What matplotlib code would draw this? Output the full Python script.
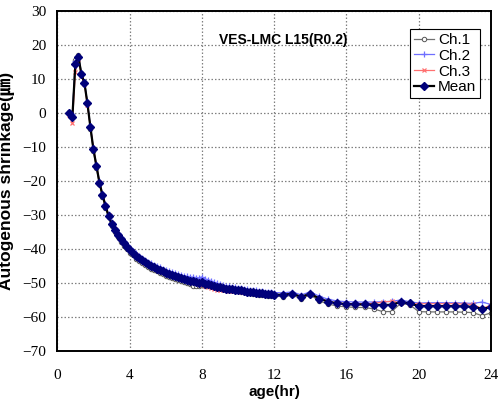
import numpy as np
import matplotlib
matplotlib.use('Agg')
import matplotlib.pyplot as plt

# logger schedule: every 10 min up to 12 h, then every 30 min up to 24 h
t_min = list(range(40, 730, 10)) + list(range(750, 1450, 30))

ch1 = [0.3, -0.6, 15.6, 17.2, 11.8, 9.2, 3.0, -4.6, -11.2, -16.1,
       -21.0, -24.6, -27.8, -30.7, -33.1, -34.9, -36.4, -37.8, -39.0, -40.1,
       -41.1, -41.9, -42.8, -43.5, -44.1, -44.6, -45.3, -45.8, -46.2, -46.6,
       -47.0, -47.4, -47.8, -48.1, -48.4, -48.7, -49.0, -49.4, -49.7, -50.0,
       -50.4, -50.8, -50.9, -50.9, -50.7, -50.8, -50.9, -51.0, -51.2, -51.5,
       -51.6, -51.8, -52.0, -52.1, -52.2, -52.3, -52.4, -52.5, -52.7, -52.9,
       -53.0, -53.2, -53.3, -53.4, -53.5, -53.6, -53.7, -53.8, -53.9,
       -54.0, -53.6, -54.6, -53.5, -55.3, -56.2, -56.8, -57.0, -57.2, -57.2,
       -57.6, -58.4, -58.4, -56.0, -56.4, -58.4, -58.5, -58.5, -58.5, -58.5,
       -58.6, -58.7, -59.6, -58.8]
ch2 = [0.2, -0.4, 15.4, 16.8, 11.6, 9.0, 3.1, -3.9, -10.4, -15.2,
       -20.1, -23.7, -26.9, -29.8, -32.0, -33.8, -35.2, -36.5, -37.7, -38.7,
       -39.7, -40.5, -41.3, -42.0, -42.5, -43.1, -43.7, -44.2, -44.6, -45.0,
       -45.3, -45.8, -46.2, -46.4, -46.8, -47.0, -47.4, -47.6, -47.9, -48.0,
       -48.2, -48.3, -48.4, -48.5, -48.2, -48.8, -49.0, -49.3, -49.7, -50.1,
       -50.3, -50.6, -50.9, -51.0, -51.2, -51.3, -51.5, -51.6, -51.7, -51.9,
       -52.0, -52.1, -52.2, -52.3, -52.4, -52.5, -52.6, -52.7, -52.8,
       -52.9, -52.6, -53.5, -52.6, -53.9, -54.8, -55.3, -55.5, -55.6, -55.6,
       -55.6, -55.5, -55.4, -55.0, -55.5, -55.9, -55.8, -55.8, -55.8, -55.8,
       -55.9, -56.0, -55.6, -56.3]
ch3 = [-0.5, -2.9, 12.2, 15.8, 10.8, 8.5, 2.3, -4.1, -10.5, -15.5,
       -20.4, -24.0, -27.2, -30.1, -32.4, -34.2, -35.8, -37.0, -38.2, -39.4,
       -40.4, -41.2, -41.9, -42.6, -43.3, -44.0, -44.5, -45.0, -45.4, -45.8,
       -46.3, -46.6, -47.0, -47.4, -47.6, -48.0, -48.2, -48.5, -48.8, -49.0,
       -49.3, -49.4, -49.8, -50.3, -50.5, -51.0, -51.3, -51.5, -51.8, -52.0,
       -52.0, -52.1, -52.2, -52.3, -52.3, -52.4, -52.4, -52.5, -52.5, -52.7,
       -52.8, -52.8, -52.9, -53.0, -53.1, -53.2, -53.3, -53.4, -53.5,
       -53.6, -53.1, -54.2, -53.2, -54.6, -55.5, -55.9, -56.1, -56.1, -56.1,
       -56.0, -55.6, -55.4, -55.8, -56.1, -56.1, -56.1, -56.1, -56.1, -56.1,
       -56.2, -56.3, -57.5, -56.5]

age = np.array(t_min) / 60.0
mean = np.mean([ch1, ch2, ch3], axis=0)

fig = plt.figure(figsize=(5.0, 4.08), dpi=100)
ax = fig.add_axes([0.1146, 0.1397, 0.8674, 0.8333])

ax.plot(age, ch1, color='#707070', lw=0.9, marker='o', ms=3.2, mfc='white',
        mec='#555555', mew=0.7, label='Ch.1')
ax.plot(age, ch2, color='#6f6fff', lw=0.9, marker='+', ms=5, mew=0.9,
        label='Ch.2')
ax.plot(age, ch3, color='#ff7070', lw=0.9, marker='x', ms=3.5, mew=0.9,
        label='Ch.3')
ax.plot(age, mean, color='black', lw=1.6, marker='D', ms=3.8,
        mfc='#00007a', mec='#00007a', label='Mean')

ax.set_xlim(0, 24)
ax.set_ylim(-70, 30)
ax.set_xticks(range(0, 25, 4))
ax.set_yticks(range(-70, 31, 10))
ax.grid(True, ls=(0, (1.2, 1.6)), color='#808080', lw=0.9)
ax.tick_params(length=0, labelsize=11)
ax.tick_params(axis='x', pad=13)
ax.tick_params(axis='y', pad=8)
for lbl in ax.get_xticklabels() + ax.get_yticklabels():
    lbl.set_family('Liberation Serif')
for sp in ax.spines.values():
    sp.set_linewidth(1.4)

ax.set_xlabel('age(hr)', fontsize=11, fontweight='bold',
              family='Liberation Sans', labelpad=2)
ax.set_ylabel('Autogenous shrinkage(㎛)', fontsize=12.5, fontweight='bold',
              family=['Liberation Sans', 'Noto Sans CJK JP'], labelpad=5)

ax.text(0.52, 0.915, 'VES-LMC L15(R0.2)', transform=ax.transAxes,
        ha='center', va='center', fontsize=10, fontweight='bold',
        family='Liberation Sans')

leg = ax.legend(loc='upper right', bbox_to_anchor=(0.975, 0.947),
                prop={'family': 'Liberation Sans', 'size': 11},
                fancybox=False, framealpha=1, edgecolor='black',
                labelspacing=0.12, handlelength=1.3, handletextpad=0.3,
                borderpad=0.25, borderaxespad=0)
leg.get_frame().set_linewidth(0.8)

fig.savefig('out.png', dpi=100)
